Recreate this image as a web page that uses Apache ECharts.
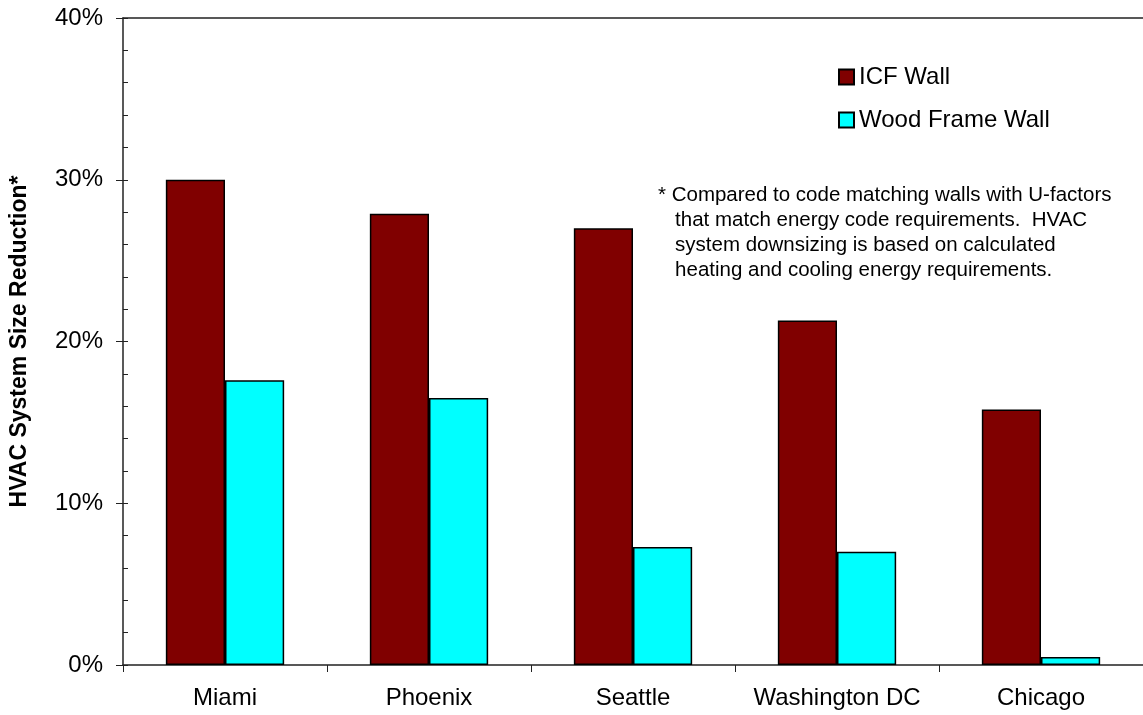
<!DOCTYPE html>
<html>
<head>
<meta charset="utf-8">
<script src="https://cdn.jsdelivr.net/npm/echarts@6/dist/echarts.min.js"></script>
<style>
  html, body { margin: 0; padding: 0; background: #fff; }
  #chart { width: 1143px; height: 715px; }
</style>
</head>
<body>
<div id="chart"></div>
<script type="text/javascript">

var cities = ['Miami', 'Phoenix', 'Seattle', 'Washington DC', 'Chicago'];
var icfWall = [30.0, 27.9, 27.0, 21.3, 15.8];
var woodFrameWall = [17.6, 16.5, 7.3, 7.0, 0.5];
var noteLines = [
	'* Compared to code matching walls with U-factors',
	'   that match energy code requirements.  HVAC',
	'   system downsizing is based on calculated',
	'   heating and cooling energy requirements.'
];

var font = 'Arial, "Liberation Sans", sans-serif';
var chart = echarts.init(document.getElementById('chart'));

var option = {
	backgroundColor: '#fff',
	animation: false,
	textStyle: { fontFamily: font },
	grid: { left: 123, right: 0, top: 18, bottom: 50 },
	legend: {
		orient: 'vertical',
		left: 833,
		top: 60,
		itemWidth: 15,
		itemHeight: 15,
		itemGap: 19,
		icon: 'rect',
		textStyle: { fontSize: 24, color: '#000', fontFamily: font },
		data: ['ICF Wall', 'Wood Frame Wall']
	},
	xAxis: [{
		type: 'category',
		data: cities,
		axisLine: { lineStyle: { color: '#222', width: 1.5 } },
		axisTick: { show: true, interval: 0, length: 7, lineStyle: { color: '#222' } },
		axisLabel: { interval: 0, fontSize: 24, color: '#000', margin: 21, fontFamily: font },
		splitLine: { show: false }
	}, {
		// top border line of the plot area
		type: 'category',
		position: 'top',
		data: cities,
		axisLine: { show: true, onZero: false, lineStyle: { color: '#222', width: 1.5 } },
		axisTick: { show: false },
		axisLabel: { show: false }
	}],
	yAxis: [{
		type: 'value',
		min: 0,
		max: 40,
		interval: 10,
		name: 'HVAC System Size Reduction*',
		nameLocation: 'middle',
		nameGap: 92,
		nameTextStyle: { fontSize: 23, fontWeight: 'bold', color: '#000', fontFamily: font },
		axisLine: { show: true, lineStyle: { color: '#222', width: 1.5 } },
		axisTick: { show: true, length: 7, lineStyle: { color: '#222' } },
		axisLabel: { fontSize: 24, color: '#000', margin: 20, formatter: '{value}%', fontFamily: font },
		splitLine: { show: false }
	}, {
		// inside ticks (major + minor)
		type: 'value',
		position: 'left',
		min: 0,
		max: 40,
		interval: 10,
		axisLine: { show: false },
		axisTick: { show: true, inside: true, length: 5, lineStyle: { color: '#222' } },
		minorTick: { show: true, splitNumber: 5, length: 5, lineStyle: { color: '#222' } },
		axisLabel: { show: false },
		splitLine: { show: false }
	}],
	series: [{
		name: 'ICF Wall',
		type: 'bar',
		data: icfWall,
		barGap: '0%',
		barCategoryGap: '42%',
		itemStyle: { color: '#800000', borderColor: '#000', borderWidth: 1.5 }
	}, {
		name: 'Wood Frame Wall',
		type: 'bar',
		data: woodFrameWall,
		itemStyle: { color: '#00ffff', borderColor: '#000', borderWidth: 1.5 }
	}],
	graphic: [{
		type: 'text',
		left: 658,
		top: 183,
		style: {
			text: noteLines.join('\n'),
			fontSize: 20.5,
			lineHeight: 25,
			fill: '#000',
			fontFamily: font
		}
	}]
};

chart.setOption(option);
</script>
</body>
</html>
